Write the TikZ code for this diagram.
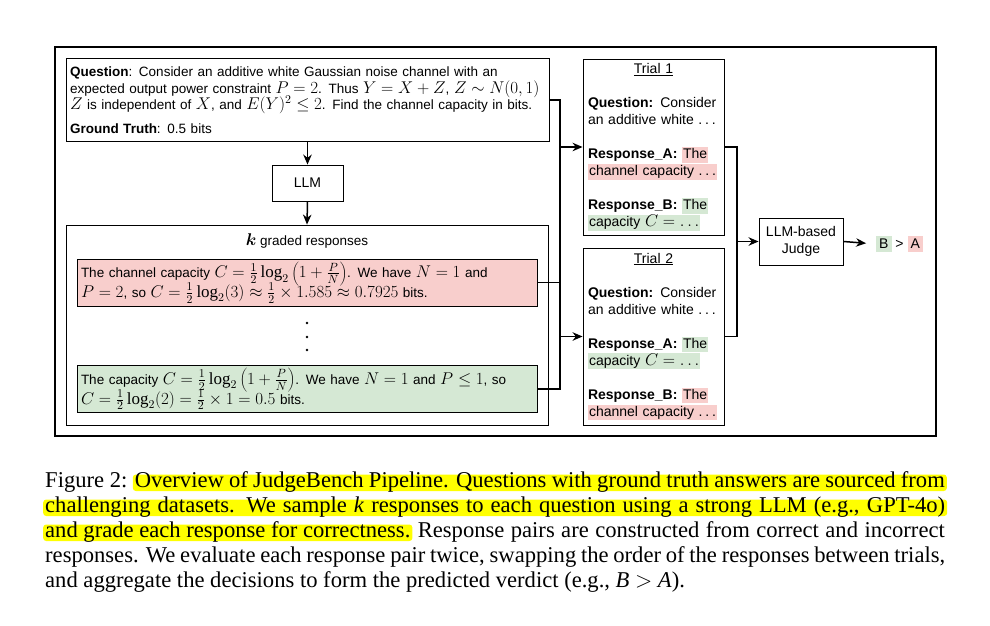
\RequirePackage{fix-cm}
\documentclass[tikz,border=0pt]{standalone}
\usepackage{fontspec}
\setmainfont{Liberation Serif}
\newfontfamily\diagfont{Liberation Sans}
\usepackage{xcolor}
\usetikzlibrary{arrows.meta, positioning, calc}
\definecolor{wrongred}{RGB}{248, 206, 204}
\definecolor{rightgreen}{RGB}{213, 232, 212}
\definecolor{marker}{RGB}{255, 255, 0}
\newcommand{\bigmath}[1]{{\fontsize{17}{15}\selectfont$#1$}}
\newcommand{\etcdots}{.\kern2.8pt.\kern2.8pt.}
\newcommand{\hlred}[1]{{\setlength{\fboxsep}{0pt}\colorbox{wrongred}{\hspace{1pt}\rule[-4pt]{0pt}{15.5pt}#1\hspace{1pt}}}}
\newcommand{\hlgreen}[1]{{\setlength{\fboxsep}{0pt}\colorbox{rightgreen}{\hspace{1pt}\rule[-4pt]{0pt}{15.5pt}#1\hspace{1pt}}}}

\begin{document}
\begin{tikzpicture}[x=1pt, y=-1pt,
  box/.style={draw, line width=0.9pt, inner sep=0pt},
  qtext/.style={font=\diagfont\fontsize{13.5}{16.5}\selectfont},
  ttext/.style={font=\diagfont\fontsize{14}{17}\selectfont},
  answer/.style={box, font=\diagfont\fontsize{13.5}{17.5}\selectfont, minimum width=460pt, minimum height=47pt, text width=452pt, inner xsep=4pt, align=left},
  trialbox/.style={box, ttext, minimum width=141pt, text width=131pt, inner xsep=5pt, align=left},
  link/.style={line width=1.5pt},
  arrow/.style={line width=1.5pt, -{Stealth[length=10pt, width=8.5pt]}},
  captext/.style={font=\fontsize{22.6}{25}\selectfont, inner sep=0pt, anchor=base west},
  hilite/.style={captext, fill=marker, rounded corners=3pt, inner xsep=2pt, text height=12.5pt, text depth=4pt}]
  \useasboundingbox (0,0) rectangle (990,625);
  \draw[line width=1.3pt] (55,47) rectangle (936,436);

  % question and sampling
  \node[box, qtext, minimum width=483pt, minimum height=83pt, text width=475pt, inner xsep=4pt, align=left] (question) at (307.5,100)
    {\lineskiplimit=-20pt
     \textbf{Question}: Consider an additive white Gaussian noise channel with an\\
     \mbox{expected output power constraint \bigmath{P=2}. Thus \bigmath{Y=X+Z}, \bigmath{Z\sim N(0,1)}}\\
     \mbox{\bigmath{Z} is independent of \bigmath{X}, and \bigmath{E(Y)^2\le 2}. Find the channel capacity in bits.}\\[7pt]
     \textbf{Ground Truth}: 0.5 bits};
  \node[box, ttext, minimum width=71pt, minimum height=36pt] (llm) at (307.5,183) {LLM};
  \node[box, minimum width=482pt, minimum height=200pt] (kbox) at (307,325) {};
  \node[qtext] (ktitle) at (307,241) {{\boldmath\bigmath{k}} graded responses};
  \node[answer, fill=wrongred] (wrong) at (307,282.5)
    {\lineskiplimit=-20pt
     \mbox{The channel capacity \bigmath{C=\frac{1}{2}\log_2\left(1+\frac{P}{N}\right)}. We have \bigmath{N=1} and}\\[-3.5pt]
     \bigmath{P=2}, so \bigmath{C=\frac{1}{2}\log_2(3)\approx\frac{1}{2}\times 1.585\approx 0.7925} bits.};
  \foreach \y in {323,337,350}
    \fill (307,\y) circle (1.3pt);
  \node[answer, fill=rightgreen] (right) at (307,389)
    {\lineskiplimit=-20pt
     \mbox{The capacity \bigmath{C=\frac{1}{2}\log_2\left(1+\frac{P}{N}\right)}. We have \bigmath{N=1} and \bigmath{P\le 1}, so}\\[-3.5pt]
     \bigmath{C=\frac{1}{2}\log_2(2)=\frac{1}{2}\times 1=0.5} bits.};

  % the two trials
  \node[trialbox, minimum height=176pt] (trial1) at (653.5,147)
    {\makebox[131pt]{\underline{Trial 1}}\\[17pt]
     \textbf{Question:} Consider\\
     an additive white \etcdots\\[17pt]
     \textbf{Response\_A:} \hlred{The}\\
     \hlred{channel capacity \etcdots}\\[17pt]
     \textbf{Response\_B:} \hlgreen{The}\\
     \hlgreen{capacity \bigmath{C=\ldots}}};
  \node[trialbox, minimum height=177pt] (trial2) at (653.5,336.5)
    {\makebox[131pt]{\underline{Trial 2}}\\[17pt]
     \textbf{Question:} Consider\\
     an additive white \etcdots\\[17pt]
     \textbf{Response\_A:} \hlgreen{The}\\
     \hlgreen{capacity \bigmath{C=\ldots}}\\[17pt]
     \textbf{Response\_B:} \hlred{The}\\
     \hlred{channel capacity \etcdots}};

  \node[box, ttext, minimum width=84pt, minimum height=47pt, align=center] (judge) at (801,241.5) {LLM-based\\Judge};
  \node[ttext, anchor=west, inner sep=0pt] (verdict) at (876,244)
    {{\setlength{\fboxsep}{3pt}\colorbox{rightgreen}{B}} > {\setlength{\fboxsep}{3pt}\colorbox{wrongred}{A}}};

  % connectors
  \coordinate (busL) at (560,0);
  \coordinate (busR) at (737,0);
  \draw[arrow] (question.south) -- (llm.north);
  \draw[arrow] (llm.south) -- (kbox.north);
  \draw[link] (question.east) -| (busL |- right.east) -- (right.east);
  \draw[line width=0.9pt] (wrong.east) -- (wrong.east -| busL);
  \draw[arrow] (busL |- trial1.west) -- (trial1.west);
  \draw[arrow] (busL |- trial2.west) -- (trial2.west);
  \draw[link] (trial1.east) -| (busR |- trial2.east) -- (trial2.east);
  \draw[arrow] (busR |- judge.west) -- (judge.west);
  \draw[arrow, shorten >=10pt] (judge.east) -- (verdict.west);

  % caption
  \node[captext] (figlabel) at (45,487) {Figure 2:};
  \node[hilite, anchor=base east] (cap1) at (947,487)
    {\makebox[810pt][s]{Overview of JudgeBench Pipeline. Questions with ground truth answers are sourced from}};
  \node[hilite] (cap2) at (43,512)
    {\makebox[900pt][s]{challenging datasets. We sample \textit{k} responses to each question using a strong LLM (e.g., GPT-4o)}};
  \node[hilite] (cap3a) at (43,537) {and grade each response for correctness.};
  \node[captext, anchor=base east] (cap3b) at (945,537)
    {\makebox[527pt][s]{Response pairs are constructed from correct and incorrect}};
  \node[captext] (cap4) at (45,562)
    {\makebox[900pt][s]{responses. We evaluate each response pair twice, swapping the order of the responses between trials,}};
  \node[captext] (cap5) at (45,587)
    {and aggregate the decisions to form the predicted verdict (e.g., \textit{B} $>$ \textit{A}).};
\end{tikzpicture}
\end{document}
